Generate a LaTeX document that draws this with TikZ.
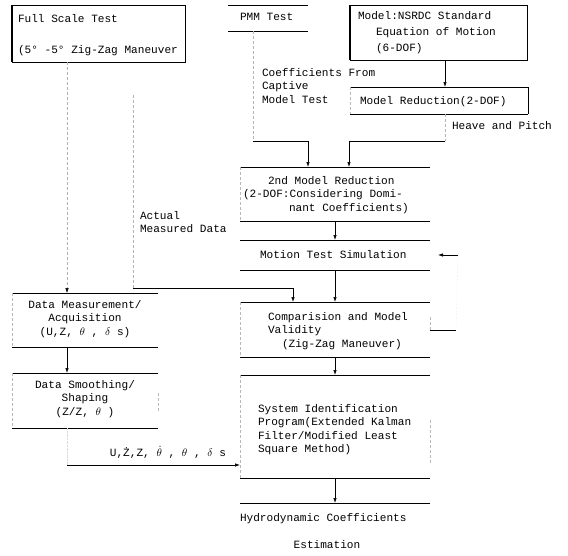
\documentclass[tikz,border=0pt]{standalone}
\usepackage{fontspec}
\setmonofont{Liberation Mono}
\usetikzlibrary{arrows.meta}
\begin{document}
\begin{tikzpicture}[x=1pt,y=-1pt,
  boxn/.style={draw=none,inner sep=0pt,outer sep=0pt,minimum width=#1},
  hline/.style={black,line width=0.8pt},
  side/.style={gray!55,densely dashed,line width=0.4pt},
  fullbox/.style={draw=black,line width=0.8pt},
  txt/.style={inner sep=0pt,outer sep=0pt,anchor=north west,align=left,
    font=\fontsize{11.1}{13.5}\selectfont\ttfamily},
  ctxt/.style={txt,anchor=north,align=center},
  conn/.style={black,line width=0.7pt},
  faint/.style={gray!60,densely dashed,line width=0.5pt},
  tip/.style={-{Latex[length=5pt,width=3.5pt,black]}}
]
\useasboundingbox (0,0) rectangle (568,555);

% ---------- boxes (positions) ----------
\node[boxn=173,minimum height=57] (fst) at (98.5,33.5) {};
\node[boxn=80,minimum height=26] (pmm) at (268,18) {};
\node[boxn=177,minimum height=55] (nsrdc) at (438.5,32.5) {};
\node[boxn=178,minimum height=27] (mred) at (439,100.5) {};
\node[boxn=190,minimum height=54] (mred2) at (335,194) {};
\node[boxn=190,minimum height=30] (motion) at (335,255) {};
\node[boxn=190,minimum height=55] (comp) at (335,329.5) {};
\node[boxn=190,minimum height=103] (sysid) at (335,426.5) {};
\node[boxn=190,minimum height=44] (hydro) at (335,525) {};
\node[boxn=146,minimum height=54] (dma) at (85,320) {};
\node[boxn=146,minimum height=55] (dsm) at (85,400.5) {};

% full boxes
\draw[fullbox] (fst.north west) rectangle (fst.south east);
\draw[line width=1.4pt] (fst.north west) -- (fst.south west);
\draw[fullbox] (nsrdc.north west) rectangle (nsrdc.south east);
\draw[line width=1.6pt] (nsrdc.north west) -- (nsrdc.south west);
% open boxes
\foreach \b in {pmm,mred,mred2,motion,comp,sysid,dma,dsm}{
  \draw[hline] (\b.north west) -- (\b.north east);
  \draw[hline] (\b.south west) -- (\b.south east);
}
\draw[hline] (hydro.north west) -- (hydro.north east);
\draw[hline] (mred.north east) -- (mred.south east);
\foreach \b in {mred,mred2,comp,sysid,dma,dsm}{
  \draw[side] (\b.north west) -- (\b.south west);
}
\draw[side] ([yshift=-20pt]dsm.north east) -- ([yshift=-40pt]dsm.north east);
\draw[side] ([yshift=-15pt]comp.north east) -- ([yshift=-30pt]comp.north east);
\draw[side] ([yshift=-45pt]sysid.north east) -- ([yshift=-90pt]sysid.north east);

% ---------- texts ----------
\node[txt] (t1) at (18,14) {Full Scale Test};
\node[txt] (t2) at (18,45) {(5° -5° Zig-Zag Maneuver};
\node[txt] (t3) at (240,13) {PMM Test};
\node[txt,font=\fontsize{11.1}{16}\selectfont\ttfamily] (t4) at (358,11)
  {Model:NSRDC Standard\\\hspace*{18pt}Equation of Motion\\\hspace*{18pt}(6-DOF)};
\node[txt] (t5) at (262,68) {Coefficients From\\Captive\\Model Test};
\node[txt] (t6) at (360,96) {Model Reduction(2-DOF)};
\node[txt] (t7) at (452,121) {Heave and Pitch};
\node[txt] (t8) at (243,176)
  {\hspace*{25pt}2nd Model Reduction\\(2-DOF:Considering Domi-\\\hspace*{46pt}nant Coefficients)};
\node[txt] (t9) at (140,211) {Actual\\Measured Data};
\node[txt] (t10) at (260,250) {Motion Test Simulation};
\node[txt] (t11) at (268,312)
  {Comparision and Model\\Validity\\\hspace*{14pt}(Zig-Zag Maneuver)};
\node[ctxt] (t12) at (85,300)
  {Data Measurement/\\Acquisition\\(U,Z, $\theta$ , $\delta$ s)};
\node[ctxt] (t13) at (85,380)
  {Data Smoothing/\\Shaping\\(Z/Z, $\theta$ )};
\node[txt,anchor=north east] (t14) at (226,446)
  {U,Ż,Z, $\dot{\theta}$ , $\theta$ , $\delta$ s};
\node[txt,font=\fontsize{11.1}{13.6}\selectfont\ttfamily] (t15) at (258,404)
  {System Identification\\Program(Extended Kalman\\Filter/Modified Least\\Square Method)};
\node[txt] (t16) at (240,513) {Hydrodynamic Coefficients};
\node[ctxt] (t17) at (327,540) {Estimation};

% ---------- connectors ----------
% NSRDC -> model reduction
\draw[conn,tip] (nsrdc.south -| 445,0) -- (mred.north -| 445,0);
% PMM -> 2nd model reduction
\coordinate (pa) at (253,141);
\coordinate (pb) at (308,141);
\draw[faint] (pmm.south -| pa) -- (pa);
\draw[conn] (pa) -- (pb);
\draw[conn,tip] (pb) -- (mred2.north -| pb);
% model reduction -> 2nd model reduction
\coordinate (ma) at (445,141);
\coordinate (mb) at (349,141);
\draw[faint] (mred.south -| ma) -- (ma);
\draw[conn] (ma) -- (mb);
\draw[conn,tip] (mb) -- (mred2.north -| mb);
% 2nd model -> motion
\draw[conn,tip] (mred2.south) -- (motion.north);
% motion -> comparison
\draw[conn,tip] (motion.south) -- (comp.north);
% comparison feedback -> motion
\coordinate (fa) at (456,330);
\coordinate (fb) at (458,255);
\draw[conn] (comp.east |- fa) -- (fa);
\draw[gray!25,densely dotted,line width=0.4pt] (fa) -- (fb);
\draw[conn,tip] (fb) -- ([xshift=8pt]motion.east);
% full scale -> data measurement
\draw[faint,tip] (fst.south -| 67,0) -- (dma.north -| 67,0);
% actual measured data -> comparison
\coordinate (aa) at (133,95);
\coordinate (ab) at (133,288);
\coordinate (ac) at (293,288);
\draw[faint] (aa) -- (ab);
\draw[conn] (ab) -- (ac);
\draw[conn,tip] (ac) -- (comp.north -| ac);
% data measurement -> smoothing
\draw[conn,tip] (dma.south -| 67,0) -- (dsm.north -| 67,0);
% smoothing -> system identification
\coordinate (sa) at (67,465);
\draw[gray!30,densely dotted,line width=0.4pt] (dsm.south -| sa) -- (sa);
\draw[conn,tip] (sa) -- (sysid.west |- sa);
% comparison -> sysid
\draw[conn,tip] (comp.south) -- (sysid.north);
% sysid -> hydro
\draw[conn,tip] (sysid.south) -- (hydro.north);
\end{tikzpicture}
\end{document}
